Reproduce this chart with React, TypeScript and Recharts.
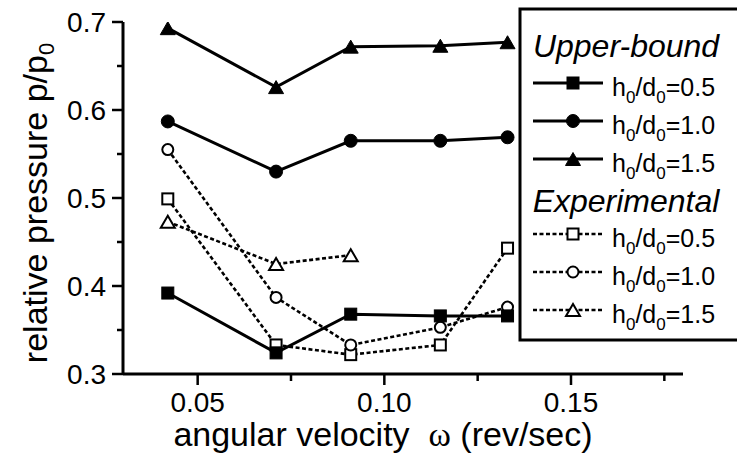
import React from "react";
import { LineChart, Line, XAxis, YAxis, Legend, Label } from "recharts";

// angular velocity (rev/sec)
const omega = [0.042, 0.071, 0.091, 0.115, 0.133];

// upper-bound solution
const ubHalf = [0.392, 0.324, 0.368, 0.366, 0.366];
const ubOne = [0.587, 0.53, 0.565, 0.565, 0.569];
const ubOneHalf = [0.693, 0.626, 0.672, 0.673, 0.677];

// experimental
const expHalf = [0.499, 0.333, 0.322, 0.333, 0.443];
const expOne = [0.555, 0.387, 0.333, 0.353, 0.376];
const expOneHalf = [0.473, 0.425, 0.435];

const xMajor = [0.05, 0.1, 0.15];
const xMinor = [0.075, 0.125, 0.175];
const yMajor = [0.3, 0.4, 0.5, 0.6, 0.7];
const yMinor = [0.35, 0.45, 0.55, 0.65];

const FONT = '"Liberation Sans", Arial, sans-serif';

type Shape = "square" | "circle" | "triangle";

interface Series {
  key: string;
  group: "Upper-bound" | "Experimental";
  ratio: string;
  values: number[];
  shape: Shape;
  filled: boolean;
}

const series: Series[] = [
  { key: "exp05", group: "Experimental", ratio: "0.5", values: expHalf, shape: "square", filled: false },
  { key: "exp10", group: "Experimental", ratio: "1.0", values: expOne, shape: "circle", filled: false },
  { key: "exp15", group: "Experimental", ratio: "1.5", values: expOneHalf, shape: "triangle", filled: false },
  { key: "ub05", group: "Upper-bound", ratio: "0.5", values: ubHalf, shape: "square", filled: true },
  { key: "ub10", group: "Upper-bound", ratio: "1.0", values: ubOne, shape: "circle", filled: true },
  { key: "ub15", group: "Upper-bound", ratio: "1.5", values: ubOneHalf, shape: "triangle", filled: true },
];

const toPoints = (values: number[]) => values.map((y, i) => ({ x: omega[i], y }));

function Marker({ cx, cy, shape, filled }: { cx: number; cy: number; shape: Shape; filled: boolean }) {
  const fill = filled ? "#000" : "#fff";
  const sw = filled ? 1 : 2;
  if (shape === "square") {
    const s = filled ? 12 : 11;
    return <rect x={cx - s / 2} y={cy - s / 2} width={s} height={s} fill={fill} stroke="#000" strokeWidth={sw} />;
  }
  if (shape === "circle") {
    return <circle cx={cx} cy={cy} r={filled ? 6.5 : 5.5} fill={fill} stroke="#000" strokeWidth={sw} />;
  }
  const w = filled ? 15 : 14;
  const h = filled ? 13 : 12;
  const pts = `${cx - w / 2},${cy + h / 2} ${cx + w / 2},${cy + h / 2} ${cx},${cy - h / 2}`;
  return <polygon points={pts} fill={fill} stroke="#000" strokeWidth={sw} strokeLinejoin="miter" />;
}

const lineStyle = (s: Series) =>
  s.group === "Upper-bound"
    ? { stroke: "#000", strokeWidth: 3 }
    : { stroke: "#000", strokeWidth: 2.6, strokeDasharray: "4 2.5" };

const XTick = (props: any) => {
  const { x, y, payload } = props;
  const major = xMajor.includes(payload.value);
  return (
    <g>
      <line x1={x} y1={y} x2={x} y2={y + (major ? 11 : 7)} stroke="#000" strokeWidth={2.5} />
      {major && (
        <text x={x} y={y + 38} textAnchor="middle" fontSize={28} fontFamily={FONT} fill="#000">
          {payload.value.toFixed(2)}
        </text>
      )}
    </g>
  );
};

const YTick = (props: any) => {
  const { x, y, payload } = props;
  const major = yMajor.includes(payload.value);
  return (
    <g>
      <line x1={x} y1={y} x2={x - (major ? 11 : 6)} y2={y} stroke="#000" strokeWidth={2.5} />
      {major && (
        <text x={x - 17} y={y + 10} textAnchor="end" fontSize={28} fontFamily={FONT} fill="#000">
          {payload.value.toFixed(1)}
        </text>
      )}
    </g>
  );
};

const RatioText = ({ x, y, ratio }: { x: number; y: number; ratio: string }) => (
  <text x={x} y={y} fontSize={25} fontFamily={FONT} fill="#000">
    h
    <tspan dy={7} fontSize={17}>0</tspan>
    <tspan dy={-7}>/d</tspan>
    <tspan dy={7} fontSize={17}>0</tspan>
    <tspan dy={-7}>={ratio}</tspan>
  </text>
);

const LegendBox = () => {
  const groups = [
    { title: "Upper-bound", titleY: 57, rowY: 83 },
    { title: "Experimental", titleY: 212, rowY: 234 },
  ];
  return (
    <svg width={737} height={455} style={{ display: "block" }}>
      <rect x={520} y={9} width={240} height={331} fill="#fff" stroke="#000" strokeWidth={3} />
      {groups.map((g) => (
        <g key={g.title}>
          <text x={626} y={g.titleY} textAnchor="middle" fontSize={32} fontStyle="italic" fontFamily={FONT} fill="#000">
            {g.title}
          </text>
          {series
            .filter((s) => s.group === g.title)
            .map((s, i) => {
              const cy = g.rowY + i * 38;
              return (
                <g key={s.key}>
                  <line x1={533} x2={603} y1={cy} y2={cy} {...lineStyle(s)} />
                  <Marker cx={573} cy={cy} shape={s.shape} filled={s.filled} />
                  <RatioText x={612} y={cy + 13} ratio={s.ratio} />
                </g>
              );
            })}
        </g>
      ))}
    </svg>
  );
};

export default function App() {
  return (
    <div style={{ position: "absolute", left: 0, top: 0, width: 737, height: 455, overflow: "hidden", background: "#fff" }}>
      <LineChart width={737} height={455} margin={{ top: 22, right: 54, bottom: 0, left: 0 }}>
        <XAxis
          type="number"
          dataKey="x"
          domain={[0.03, 0.18]}
          allowDataOverflow
          ticks={[...xMajor, ...xMinor].sort((a, b) => a - b)}
          interval={0}
          tick={<XTick />}
          tickLine={false}
          tickSize={0}
          tickMargin={0}
          height={81}
          axisLine={{ stroke: "#000", strokeWidth: 3 }}
        >
          <Label
            content={(p: any) => {
              const { x, y, width } = p.viewBox;
              return (
                <text x={x + width / 2 - 20} y={y + 72} textAnchor="middle" fontSize={34} fontFamily={FONT} fill="#000" style={{ whiteSpace: "pre" }}>
                  angular velocity{"  "}
                  <tspan fontFamily='"Liberation Serif", serif'>ω</tspan> (rev/sec)
                </text>
              );
            }}
          />
        </XAxis>
        <YAxis
          type="number"
          dataKey="y"
          domain={[0.3, 0.7]}
          allowDataOverflow
          ticks={[...yMajor, ...yMinor].sort((a, b) => a - b)}
          interval={0}
          tick={<YTick />}
          tickLine={false}
          tickSize={0}
          tickMargin={0}
          width={123}
          axisLine={{ stroke: "#000", strokeWidth: 3 }}
        >
          <Label
            content={(p: any) => {
              const { y, height } = p.viewBox;
              const cx = 47;
              const cy = y + height / 2 + 5;
              return (
                <text x={cx} y={cy} transform={`rotate(-90 ${cx} ${cy})`} textAnchor="middle" fontSize={34} fontFamily={FONT} fill="#000">
                  relative pressure p/p
                  <tspan dy={7} fontSize={22}>0</tspan>
                </text>
              );
            }}
          />
        </YAxis>
        <Legend
          layout="vertical"
          align="center"
          verticalAlign="middle"
          content={() => <LegendBox />}
          wrapperStyle={{ left: 0, top: 0, width: 737, height: 455, pointerEvents: "none" }}
        />
        {series.map((s) => (
          <Line
            key={s.key}
            data={toPoints(s.values)}
            dataKey="y"
            type="linear"
            {...lineStyle(s)}
            dot={(d: any) => <Marker key={`${s.key}-${d.index}`} cx={d.cx} cy={d.cy} shape={s.shape} filled={s.filled} />}
            activeDot={false}
            isAnimationActive={false}
          />
        ))}
      </LineChart>
    </div>
  );
}
